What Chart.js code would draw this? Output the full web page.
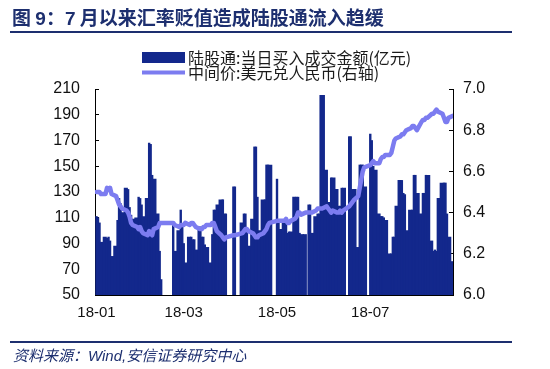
<!DOCTYPE html>
<html lang="zh">
<head>
<meta charset="utf-8">
<title>图9 陆股通流入与人民币汇率</title>
<script src="https://cdn.jsdelivr.net/npm/chart.js"></script>
<style>
  html, body { margin:0; padding:0; background:#fff; }
  body { width:550px; height:369px; position:relative; overflow:hidden; font-family:"Noto Sans CJK SC", sans-serif; }
  #chart { position:absolute; left:0; top:0; }
  #title { position:absolute; left:12px; top:4px; font-size:19px; font-weight:bold; color:#1d2f6f; white-space:nowrap; line-height:26px; }
  #title .num { font-family:"Liberation Sans", Arial, sans-serif; }
  .rule { position:absolute; left:10px; width:502px; height:2px; background:#1d2f6f; }
  #source { position:absolute; left:13px; top:346px; font-size:15px; font-style:italic; color:#1d2f6f; line-height:18px; white-space:nowrap; }
  #source .en { font-family:"Liberation Sans", Arial, sans-serif; }
</style>
</head>
<body>
<canvas id="chart" width="550" height="369"></canvas>
<div id="title">图 <span class="num">9</span>：<span class="num">7</span> 月以来汇率贬值造成陆股通流入趋缓</div>
<div class="rule" style="top:31px"></div>
<div class="rule" style="top:341px"></div>
<div id="source">资料来源：<span class="en">Wind,</span>安信证券研究中心</div>
<script>
// 陆股通当日买入成交金额(亿元), one value per weekday, null = market closed
var inflowJan = [null,111,110,106,91, 95,94,95,92,80, 88,108,125,121,114, 133,132,118,112,109, 110,126,125];
var inflowFeb = [120,111, 125,168,167,143,140, 113,84,62,null,null, null,null,null,104,84, 100,116,105];
var inflowMar = [90,75, 95,95,93,93,85, 103,95,95,89,87, 75,97,116,116,120, 124,124,113,113,null];
var inflowApr = [null,134,134,null,null, 106,113,113,100,88, 109,165,165,126,100, 124,124,151,151,151, null];
var inflowMay = [null,140,108,101, 106,106,98,99,99, 126,126,126,98,97, 97,null,120,120,98, 111,113,113,205];
var inflowJun = [205, 147,122,122,141,141, 132,119,119,133,133, null,173,173,132,132, 87,151,151,151,134];
var inflowJul = [null,175,170,150,147, 113,111,111,110,108, 82,82,95,95,119, 139,139,129,128,100, 116,116];
var inflowAug = [143,143,129, 113,129,129,143,143, 92,84,85,84,125, 137,137,137,113,95, 76];

// 中间价:美元兑人民币
var fixJan = [null,6.50,6.50,6.50,6.49, 6.49,6.52,6.51,6.52,6.49, 6.48,6.46,6.44,6.43,6.42, 6.41,6.40,6.38,6.35,6.34, 6.33,6.32,6.33];
var fixFeb = [6.31,6.30, 6.29,6.31,6.30,6.29,6.32, 6.33,6.35,6.35,null,null, null,null,null,6.35,6.34, 6.33,6.34,6.34];
var fixMar = [6.34,6.35, 6.34,6.35,6.35,6.34,6.33, 6.32,6.32,6.33,6.33,6.34, 6.34,6.35,6.35,6.33,6.31, 6.29,6.28,6.27,6.28,null];
var fixApr = [null,6.29,6.29,null,null, 6.30,6.31,6.32,6.32,6.31, 6.30,6.29,6.28,6.28,6.29, 6.30,6.31,6.32,6.34,6.35, null];
var fixMay = [null,6.36,6.36,6.36, 6.36,6.37,6.35,6.35,6.36, 6.37,6.38,6.40,6.40,6.39, 6.40,null,6.40,6.40,6.40, 6.41,6.42,6.42,6.42];
var fixJun = [6.42, 6.43,6.42,6.41,6.40,6.41, 6.40,6.40,6.41,6.40,6.41, null,6.43,6.44,6.45,6.46, 6.48,6.52,6.56,6.60,6.62];
var fixJul = [null,6.63,6.64,6.65,6.64, 6.64,6.66,6.67,6.67,6.68, 6.68,6.69,6.72,6.75,6.76, 6.77,6.78,6.78,6.79,6.80, 6.81,6.82];
var fixAug = [6.82,6.81,6.80, 6.84,6.85,6.85,6.86,6.86, 6.88,6.88,6.89,6.90,6.89, 6.88,6.86,6.84,6.84,6.86, 6.87];

var tickMonths = [0, 2, 4, 6];
var tickLabels = ['18-01', '18-03', '18-05', '18-07'];

var barColor = '#13288c';
var lineColor = '#7c7cf0';

var inflow = [].concat(inflowJan, inflowFeb, inflowMar, inflowApr, inflowMay, inflowJun, inflowJul, inflowAug);
var fixing = [].concat(fixJan, fixFeb, fixMar, fixApr, fixMay, fixJun, fixJul, fixAug);

// day index (from 2018-01-01, a Monday) of every weekday
var days = [];
for (var d = 0; days.length < inflow.length; d++) {
    if (d % 7 < 5) days.push(d);
}
var start = Date.UTC(2018, 0, 1);
function monthOf(day) { return new Date(start + day * 86400000).getUTCMonth(); }
// labels sit on the first trading day of each month
var tickDays = tickMonths.map(m => days.find((x, i) => monthOf(x) === m && inflow[i] !== null));

var legendBox = {
    id: 'legendBox',
    afterDraw(chart) {
        var ctx = chart.ctx;
        var x0 = 142, w = 43;
        ctx.save();
        ctx.fillStyle = barColor;
        ctx.fillRect(x0, 52, w, 11);
        ctx.strokeStyle = lineColor;
        ctx.lineWidth = 4;
        ctx.beginPath();
        ctx.moveTo(x0, 72.5);
        ctx.lineTo(x0 + w, 72.5);
        ctx.stroke();
        ctx.fillStyle = '#1a1a1a';
        ctx.font = '16px "Noto Sans CJK SC"';
        ctx.textBaseline = 'middle';
        ctx.fillText(chart.data.datasets[0].label, x0 + w + 3, 57.5);
        ctx.fillText(chart.data.datasets[1].label, x0 + w + 3, 73);
        ctx.restore();
    }
};

Chart.defaults.font.family = '"Liberation Sans", Arial, sans-serif';
Chart.defaults.color = '#111';

new Chart('chart', {
    data: {
        datasets: [{
            type: 'bar',
            label: '陆股通:当日买入成交金额(亿元)',
            data: days.map((x, i) => ({x: x, y: inflow[i]})),
            backgroundColor: barColor,
            borderWidth: 0,
            barThickness: 'flex',
            categoryPercentage: 1,
            barPercentage: 1.15,
            yAxisID: 'y',
            order: 2
        }, {
            type: 'line',
            label: '中间价:美元兑人民币(右轴)',
            data: days.map((x, i) => ({x: x, y: fixing[i]})),
            borderColor: lineColor,
            borderWidth: 4.5,
            pointRadius: 0,
            tension: 0,
            spanGaps: true,
            borderJoinStyle: 'round',
            borderCapStyle: 'round',
            yAxisID: 'y1',
            order: 1
        }]
    },
    options: {
        responsive: false,
        animation: false,
        layout: { padding: { top: 89, left: 0, right: 0, bottom: 0 } },
        plugins: { legend: { display: false }, tooltip: { enabled: false } },
        scales: {
            x: {
                type: 'linear',
                offset: false,
                min: 0,
                max: 238,
                grid: { drawOnChartArea: false, drawTicks: false, offset: false },
                border: { color: '#000' },
                afterBuildTicks: s => { s.ticks = tickDays.map(v => ({value: v})); },
                ticks: {
                    autoSkip: false, maxRotation: 0, padding: 9, font: { size: 15 },
                    callback: v => tickLabels[tickDays.indexOf(v)]
                },
                afterFit: s => { s.height = 74; }
            },
            y: {
                position: 'left',
                min: 50,
                max: 210,
                grid: { drawOnChartArea: false, tickLength: -4, color: '#000' },
                border: { color: '#000' },
                ticks: { stepSize: 20, padding: 19, font: { size: 16 } },
                afterFit: s => { s.width = 95; }
            },
            y1: {
                position: 'right',
                min: 6,
                max: 7,
                grid: { drawOnChartArea: false, tickLength: -4, color: '#000' },
                border: { color: '#000' },
                ticks: { stepSize: 0.2, padding: 14, font: { size: 16 }, callback: v => v.toFixed(1) },
                afterFit: s => { s.width = 97; }
            }
        }
    },
    plugins: [legendBox]
});
</script>
</body>
</html>
